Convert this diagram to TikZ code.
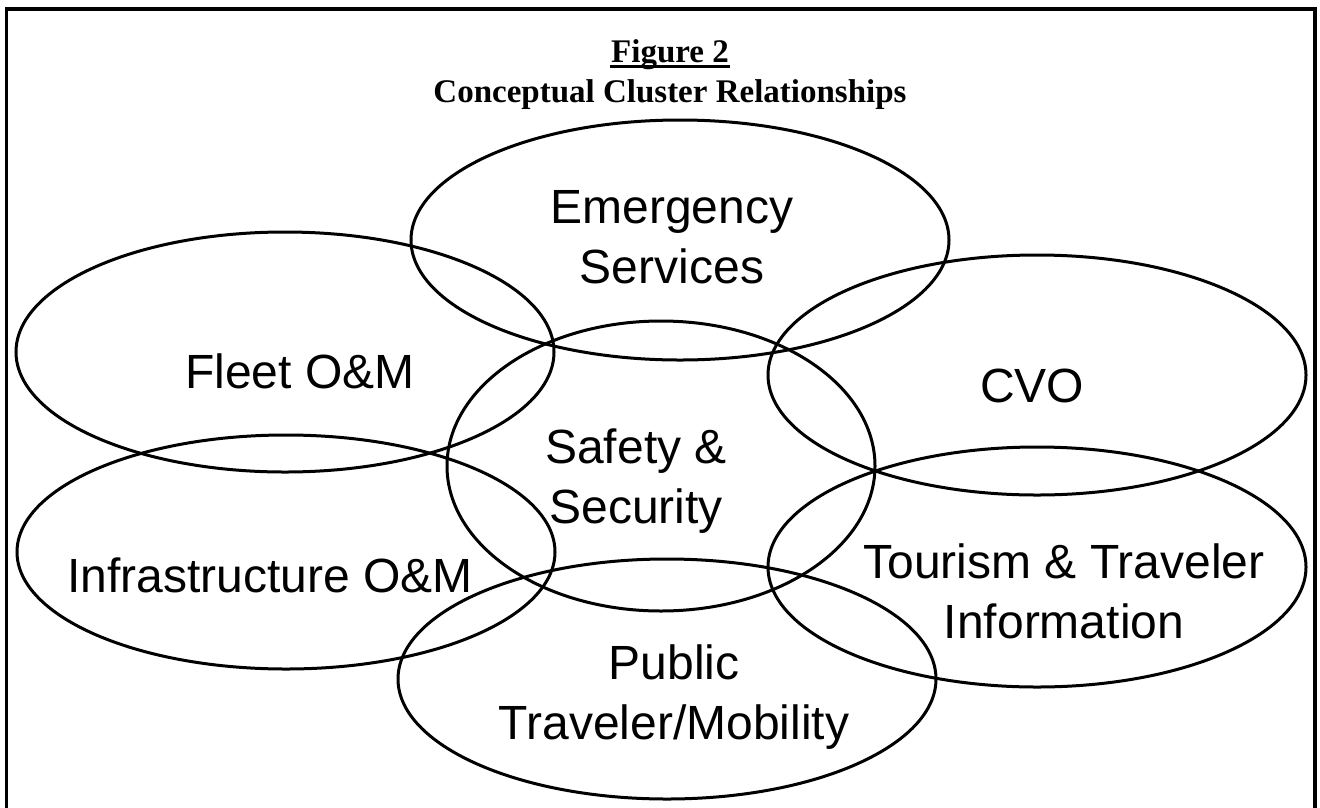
\documentclass[tikz,border=0pt]{standalone}
\usepackage{fontspec}
\setmainfont{Liberation Serif}
\setsansfont{Liberation Sans}
\usetikzlibrary{shapes.geometric}

\begin{document}
\begin{tikzpicture}[
  x=1pt,y=-1pt,line width=3pt,
  every node/.style={inner sep=0pt},
  cluster/.style={draw=black,ellipse,minimum width=538pt,minimum height=240pt},
  clustertext/.style={font=\sffamily\fontsize{48}{60}\selectfont,align=center,anchor=base},
  headline/.style={font=\rmfamily\bfseries\fontsize{33}{41}\selectfont,anchor=base}]

  \useasboundingbox (0,0) rectangle (1320,807);

  % frame, open at the bottom
  \draw[line width=3.5pt] (6.5,820) -- (6.5,9) -- (1315,9) -- (1315,820);

  \node[headline] (fig)   at (670,62)  {Figure 2};
  \node[headline] (title) at (670,102) {Conceptual Cluster Relationships};
  \draw[line width=3pt] ([yshift=-4pt]fig.base west) -- ([yshift=-4pt]fig.base east);

  \node[cluster]                                          (emg) at (680,240)  {};
  \node[cluster]                                          (flt) at (285,352)  {};
  \node[cluster]                                          (cvo) at (1037,375) {};
  \node[cluster,minimum width=428pt,minimum height=290pt] (saf) at (661,466)  {};
  \node[cluster,minimum height=234pt]                     (inf) at (286,552)  {};
  \node[cluster]                                          (tou) at (1037,567) {};
  \node[cluster]                                          (pub) at (667,679)  {};

  % base of a two-line label is its last line
  \node[clustertext] (emgtxt) at (672,283)  {Emergency\\Services};
  \node[clustertext] (flttxt) at (300,388)  {Fleet O\&M};
  \node[clustertext] (cvotxt) at (1032,402) {CVO};
  \node[clustertext] (saftxt) at (636,523)  {Safety \&\\Security};
  \node[clustertext] (inftxt) at (270,592)  {Infrastructure O\&M};
  \node[clustertext] (toutxt) at (1064,638) {Tourism \& Traveler\\Information};
  \node[clustertext] (pubtxt) at (674,739)  {Public\\Traveler/Mobility};

\end{tikzpicture}
\end{document}
